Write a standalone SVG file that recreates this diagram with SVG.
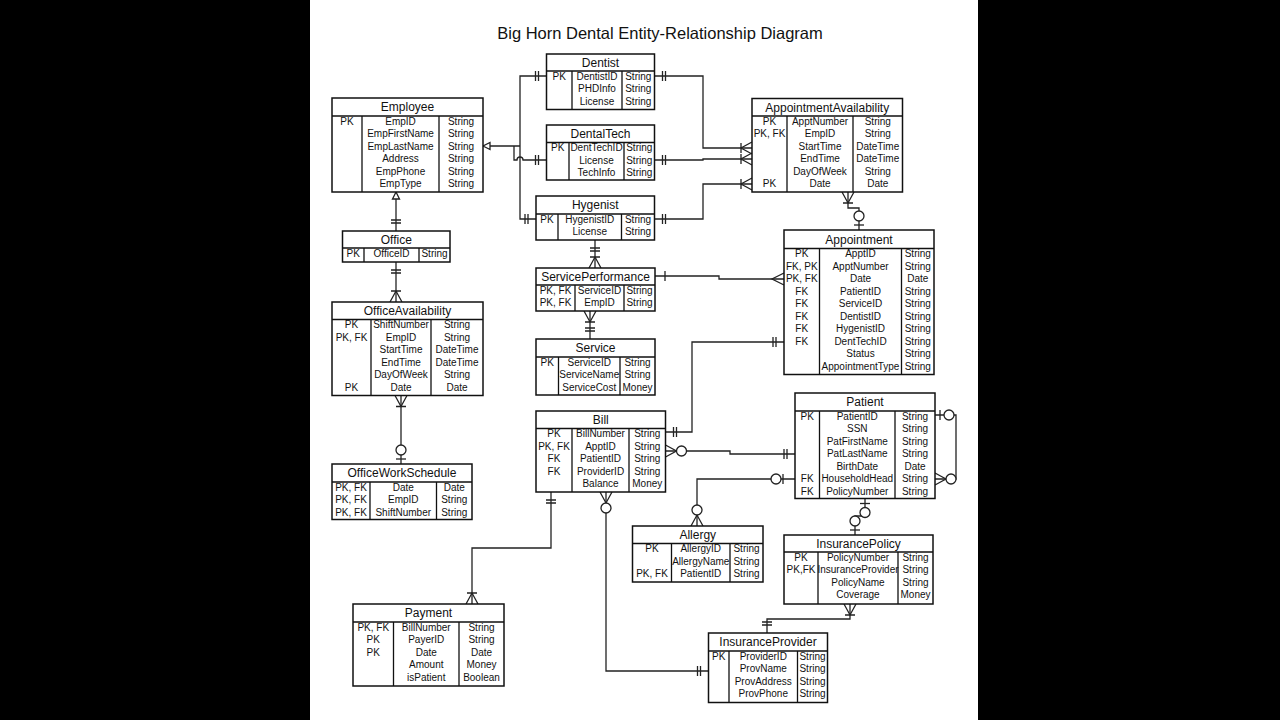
<svg xmlns="http://www.w3.org/2000/svg" width="1280" height="720" viewBox="0 0 1280 720">
<style>
.bx{fill:#fff;stroke:#111;stroke-width:1.5}
.ln{stroke:#111;stroke-width:1.3;fill:none}
.c{fill:none;stroke:#222;stroke-width:1.3}
.mk{fill:none;stroke:#222;stroke-width:1.3}
.mc{fill:#fff;stroke:#222;stroke-width:1.3}
text{font-family:"Liberation Sans",Arial,sans-serif;fill:#111;text-anchor:middle}
.h{font-size:12px}
.t{font-size:10px}
.title{font-size:16.5px}
</style>
<defs>
<marker id="one2" markerUnits="userSpaceOnUse" orient="auto-start-reverse" viewBox="-25 -10 30 20" markerWidth="30" markerHeight="20" refX="0" refY="0"><path class="mk" d="M-8,-5V5M-11,-5V5"/></marker>
<marker id="one" markerUnits="userSpaceOnUse" orient="auto-start-reverse" viewBox="-25 -10 30 20" markerWidth="30" markerHeight="20" refX="0" refY="0"><path class="mk" d="M-10,-5V5"/></marker>
<marker id="crow1" markerUnits="userSpaceOnUse" orient="auto-start-reverse" viewBox="-25 -10 30 20" markerWidth="30" markerHeight="20" refX="0" refY="0"><path class="mk" d="M0,-6L-11,0L0,6M-11,-5V5"/></marker>
<marker id="crow" markerUnits="userSpaceOnUse" orient="auto-start-reverse" viewBox="-25 -10 30 20" markerWidth="30" markerHeight="20" refX="0" refY="0"><path class="mk" d="M0,-6L-12,0L0,6"/></marker>
<marker id="crow0" markerUnits="userSpaceOnUse" orient="auto-start-reverse" viewBox="-25 -10 30 20" markerWidth="30" markerHeight="20" refX="0" refY="0"><path class="mk" d="M0,-6L-11,0L0,6"/><circle class="mc" cx="-16" cy="0" r="5"/></marker>
<marker id="zero1" markerUnits="userSpaceOnUse" orient="auto-start-reverse" viewBox="-25 -10 30 20" markerWidth="30" markerHeight="20" refX="0" refY="0"><path class="mk" d="M-5,-5V5"/><circle class="mc" cx="-14" cy="0" r="5"/></marker>
<marker id="zero1b" markerUnits="userSpaceOnUse" orient="auto-start-reverse" viewBox="-25 -10 30 20" markerWidth="30" markerHeight="20" refX="0" refY="0"><path class="mk" d="M-12,-5V5"/><circle class="mc" cx="-19" cy="0" r="5"/></marker>
<marker id="tri" markerUnits="userSpaceOnUse" orient="auto-start-reverse" viewBox="-25 -10 30 20" markerWidth="30" markerHeight="20" refX="0" refY="0"><path class="mc" d="M0,0L-7,-3.5L-7,3.5Z"/></marker>
</defs>
<rect x="0" y="0" width="1280" height="720" fill="#000"/>
<rect x="310" y="0" width="668" height="720" fill="#fff"/>
<text class="title" x="660" y="39">Big Horn Dental Entity-Relationship Diagram</text>

<g id="connectors">
<path class="c" d="M520 146H483" marker-end="url(#tri)"/>
<path class="c" d="M546.5 76H520V219H536" marker-start="url(#one2)" marker-end="url(#one2)"/>
<path class="c" d="M514 146V160H517a3 3 0 0 1 6 0H546.5" marker-end="url(#one2)"/>
<path class="c" d="M396 192V231" marker-start="url(#tri)" marker-end="url(#one2)"/>
<path class="c" d="M396 262V302" marker-start="url(#one2)" marker-end="url(#crow1)"/>
<path class="c" d="M401 395.5V464" marker-start="url(#crow1)" marker-end="url(#zero1)"/>
<path class="c" d="M654.5 76H703V148H752" marker-start="url(#one2)" marker-end="url(#crow1)"/>
<path class="c" d="M654.5 160H703V159H752" marker-start="url(#one2)" marker-end="url(#crow1)"/>
<path class="c" d="M654.5 219H703V184H752" marker-start="url(#one2)" marker-end="url(#crow1)"/>
<path class="c" d="M848 192V208H859V230" marker-start="url(#crow1)" marker-end="url(#zero1)"/>
<path class="c" d="M595 240V268" marker-start="url(#one2)" marker-end="url(#crow1)"/>
<path class="c" d="M655 276H719V279H784" marker-start="url(#one)" marker-end="url(#crow)"/>
<path class="c" d="M590 311V339" marker-start="url(#crow1)" marker-end="url(#one2)"/>
<path class="c" d="M784 342H692V432H665.5" marker-start="url(#one2)" marker-end="url(#one2)"/>
<path class="c" d="M665.5 451H730V454H795" marker-start="url(#crow0)" marker-end="url(#one2)"/>
<path class="c" d="M697 526V479H795" marker-start="url(#crow0)" marker-end="url(#zero1b)"/>
<path class="c" d="M935 415H956V479H935" marker-start="url(#zero1)" marker-end="url(#crow0)"/>
<path class="c" d="M865 498.5V516H855V535" marker-start="url(#zero1)" marker-end="url(#zero1)"/>
<path class="c" d="M850 604V619H767V633" marker-start="url(#crow1)" marker-end="url(#one2)"/>
<path class="c" d="M551 492V548H472V604" marker-start="url(#one2)" marker-end="url(#crow1)"/>
<path class="c" d="M606 492V671H708.5" marker-start="url(#crow0)" marker-end="url(#one2)"/>
</g>

<g id="Employee">
<rect class="bx" x="332" y="98" width="151" height="94"/>
<path class="ln" d="M332 116H483M362 116V192M439 116V192"/>
<text class="h" x="407.5" y="111">Employee</text>
<text class="t" x="347" y="124.5">PK</text>
<text class="t" x="400.5" y="124.5">EmpID</text><text class="t" x="461" y="124.5">String</text>
<text class="t" x="400.5" y="137">EmpFirstName</text><text class="t" x="461" y="137">String</text>
<text class="t" x="400.5" y="149.5">EmpLastName</text><text class="t" x="461" y="149.5">String</text>
<text class="t" x="400.5" y="162">Address</text><text class="t" x="461" y="162">String</text>
<text class="t" x="400.5" y="174.5">EmpPhone</text><text class="t" x="461" y="174.5">String</text>
<text class="t" x="400.5" y="187">EmpType</text><text class="t" x="461" y="187">String</text>
</g>

<g id="Dentist">
<rect class="bx" x="546.5" y="54" width="108" height="55.5"/>
<path class="ln" d="M546.5 71H654.5M572 71V109.5M622 71V109.5"/>
<text class="h" x="600.5" y="66.5">Dentist</text>
<text class="t" x="559.25" y="79.5">PK</text>
<text class="t" x="597" y="79.5">DentistID</text><text class="t" x="638.25" y="79.5">String</text>
<text class="t" x="597" y="92">PHDInfo</text><text class="t" x="638.25" y="92">String</text>
<text class="t" x="597" y="104.5">License</text><text class="t" x="638.25" y="104.5">String</text>
</g>

<g id="DentalTech">
<rect class="bx" x="546.5" y="125" width="108" height="55"/>
<path class="ln" d="M546.5 142.5H654.5M569 142.5V180M624 142.5V180"/>
<text class="h" x="600.5" y="138">DentalTech</text>
<text class="t" x="557.75" y="151">PK</text>
<text class="t" x="596.5" y="151">DentTechID</text><text class="t" x="639.25" y="151">String</text>
<text class="t" x="596.5" y="163.5">License</text><text class="t" x="639.25" y="163.5">String</text>
<text class="t" x="596.5" y="176">TechInfo</text><text class="t" x="639.25" y="176">String</text>
</g>

<g id="Hygenist">
<rect class="bx" x="536" y="196" width="118.5" height="44"/>
<path class="ln" d="M536 214H654.5M558 214V240M621.5 214V240"/>
<text class="h" x="595.25" y="209">Hygenist</text>
<text class="t" x="547" y="222.5">PK</text>
<text class="t" x="589.75" y="222.5">HygenistID</text><text class="t" x="638" y="222.5">String</text>
<text class="t" x="589.75" y="235">License</text><text class="t" x="638" y="235">String</text>
</g>

<g id="AppointmentAvailability">
<rect class="bx" x="752" y="98.5" width="150.5" height="93.5"/>
<path class="ln" d="M752 116H902.5M787 116V192M853 116V192"/>
<text class="h" x="827.25" y="111.5">AppointmentAvailability</text>
<text class="t" x="769.5" y="124.5">PK</text>
<text class="t" x="769.5" y="137">PK, FK</text>
<text class="t" x="769.5" y="187">PK</text>
<text class="t" x="820" y="124.5">ApptNumber</text><text class="t" x="877.75" y="124.5">String</text>
<text class="t" x="820" y="137">EmpID</text><text class="t" x="877.75" y="137">String</text>
<text class="t" x="820" y="149.5">StartTime</text><text class="t" x="877.75" y="149.5">DateTime</text>
<text class="t" x="820" y="162">EndTime</text><text class="t" x="877.75" y="162">DateTime</text>
<text class="t" x="820" y="174.5">DayOfWeek</text><text class="t" x="877.75" y="174.5">String</text>
<text class="t" x="820" y="187">Date</text><text class="t" x="877.75" y="187">Date</text>
</g>

<g id="Appointment">
<rect class="bx" x="784" y="230" width="150" height="144.5"/>
<path class="ln" d="M784 248.5H934M819.5 248.5V374.5M901.5 248.5V374.5"/>
<text class="h" x="859" y="243.5">Appointment</text>
<text class="t" x="801.75" y="257">PK</text>
<text class="t" x="801.75" y="269.5">FK, PK</text>
<text class="t" x="801.75" y="282">PK, FK</text>
<text class="t" x="801.75" y="294.5">FK</text>
<text class="t" x="801.75" y="307">FK</text>
<text class="t" x="801.75" y="319.5">FK</text>
<text class="t" x="801.75" y="332">FK</text>
<text class="t" x="801.75" y="344.5">FK</text>
<text class="t" x="860.5" y="257">ApptID</text><text class="t" x="917.75" y="257">String</text>
<text class="t" x="860.5" y="269.5">ApptNumber</text><text class="t" x="917.75" y="269.5">String</text>
<text class="t" x="860.5" y="282">Date</text><text class="t" x="917.75" y="282">Date</text>
<text class="t" x="860.5" y="294.5">PatientID</text><text class="t" x="917.75" y="294.5">String</text>
<text class="t" x="860.5" y="307">ServiceID</text><text class="t" x="917.75" y="307">String</text>
<text class="t" x="860.5" y="319.5">DentistID</text><text class="t" x="917.75" y="319.5">String</text>
<text class="t" x="860.5" y="332">HygenistID</text><text class="t" x="917.75" y="332">String</text>
<text class="t" x="860.5" y="344.5">DentTechID</text><text class="t" x="917.75" y="344.5">String</text>
<text class="t" x="860.5" y="357">Status</text><text class="t" x="917.75" y="357">String</text>
<text class="t" x="860.5" y="369.5">AppointmentType</text><text class="t" x="917.75" y="369.5">String</text>
</g>

<g id="Office">
<rect class="bx" x="342.5" y="231" width="107.5" height="31"/>
<path class="ln" d="M342.5 248H450M364 248V262M419 248V262"/>
<text class="h" x="396.25" y="243.5">Office</text>
<text class="t" x="353.25" y="256.5">PK</text>
<text class="t" x="391.5" y="256.5">OfficeID</text><text class="t" x="434.5" y="256.5">String</text>
</g>

<g id="OfficeAvailability">
<rect class="bx" x="332" y="302" width="151" height="93.5"/>
<path class="ln" d="M332 319.5H483M371 319.5V395.5M431 319.5V395.5"/>
<text class="h" x="407.5" y="315">OfficeAvailability</text>
<text class="t" x="351.5" y="328">PK</text>
<text class="t" x="351.5" y="340.5">PK, FK</text>
<text class="t" x="351.5" y="390.5">PK</text>
<text class="t" x="401" y="328">ShiftNumber</text><text class="t" x="457" y="328">String</text>
<text class="t" x="401" y="340.5">EmpID</text><text class="t" x="457" y="340.5">String</text>
<text class="t" x="401" y="353">StartTime</text><text class="t" x="457" y="353">DateTime</text>
<text class="t" x="401" y="365.5">EndTime</text><text class="t" x="457" y="365.5">DateTime</text>
<text class="t" x="401" y="378">DayOfWeek</text><text class="t" x="457" y="378">String</text>
<text class="t" x="401" y="390.5">Date</text><text class="t" x="457" y="390.5">Date</text>
</g>

<g id="OfficeWorkSchedule">
<rect class="bx" x="332" y="464" width="140" height="55.5"/>
<path class="ln" d="M332 482H472M370 482V519.5M436.5 482V519.5"/>
<text class="h" x="402" y="477">OfficeWorkSchedule</text>
<text class="t" x="351" y="490.5">PK, FK</text>
<text class="t" x="351" y="503">PK, FK</text>
<text class="t" x="351" y="515.5">PK, FK</text>
<text class="t" x="403.25" y="490.5">Date</text><text class="t" x="454.25" y="490.5">Date</text>
<text class="t" x="403.25" y="503">EmpID</text><text class="t" x="454.25" y="503">String</text>
<text class="t" x="403.25" y="515.5">ShiftNumber</text><text class="t" x="454.25" y="515.5">String</text>
</g>

<g id="ServicePerformance">
<rect class="bx" x="536" y="268" width="119" height="43"/>
<path class="ln" d="M536 285H655M575 285V311M624 285V311"/>
<text class="h" x="595.5" y="280.5">ServicePerformance</text>
<text class="t" x="555.5" y="293.5">PK, FK</text>
<text class="t" x="555.5" y="306">PK, FK</text>
<text class="t" x="599.5" y="293.5">ServiceID</text><text class="t" x="639.5" y="293.5">String</text>
<text class="t" x="599.5" y="306">EmpID</text><text class="t" x="639.5" y="306">String</text>
</g>

<g id="Service">
<rect class="bx" x="536" y="339" width="119" height="56"/>
<path class="ln" d="M536 357H655M558.5 357V395M620 357V395"/>
<text class="h" x="595.5" y="352">Service</text>
<text class="t" x="547.25" y="365.5">PK</text>
<text class="t" x="589.25" y="365.5">ServiceID</text><text class="t" x="637.5" y="365.5">String</text>
<text class="t" x="589.25" y="378">ServiceName</text><text class="t" x="637.5" y="378">String</text>
<text class="t" x="589.25" y="390.5">ServiceCost</text><text class="t" x="637.5" y="390.5">Money</text>
</g>

<g id="Bill">
<rect class="bx" x="536" y="411" width="129.5" height="81"/>
<path class="ln" d="M536 428.5H665.5M572 428.5V492M629 428.5V492"/>
<text class="h" x="600.75" y="424">Bill</text>
<text class="t" x="554" y="437">PK</text>
<text class="t" x="554" y="449.5">PK, FK</text>
<text class="t" x="554" y="462">FK</text>
<text class="t" x="554" y="474.5">FK</text>
<text class="t" x="600.5" y="437">BillNumber</text><text class="t" x="647.25" y="437">String</text>
<text class="t" x="600.5" y="449.5">ApptID</text><text class="t" x="647.25" y="449.5">String</text>
<text class="t" x="600.5" y="462">PatientID</text><text class="t" x="647.25" y="462">String</text>
<text class="t" x="600.5" y="474.5">ProviderID</text><text class="t" x="647.25" y="474.5">String</text>
<text class="t" x="600.5" y="487">Balance</text><text class="t" x="647.25" y="487">Money</text>
</g>

<g id="Patient">
<rect class="bx" x="795" y="393" width="140" height="105.5"/>
<path class="ln" d="M795 411H935M819.5 411V498.5M895 411V498.5"/>
<text class="h" x="865" y="406">Patient</text>
<text class="t" x="807.25" y="419.5">PK</text>
<text class="t" x="807.25" y="482">FK</text>
<text class="t" x="807.25" y="494.5">FK</text>
<text class="t" x="857.25" y="419.5">PatientID</text><text class="t" x="915" y="419.5">String</text>
<text class="t" x="857.25" y="432">SSN</text><text class="t" x="915" y="432">String</text>
<text class="t" x="857.25" y="444.5">PatFirstName</text><text class="t" x="915" y="444.5">String</text>
<text class="t" x="857.25" y="457">PatLastName</text><text class="t" x="915" y="457">String</text>
<text class="t" x="857.25" y="469.5">BirthDate</text><text class="t" x="915" y="469.5">Date</text>
<text class="t" x="857.25" y="482">HouseholdHead</text><text class="t" x="915" y="482">String</text>
<text class="t" x="857.25" y="494.5">PolicyNumber</text><text class="t" x="915" y="494.5">String</text>
</g>

<g id="InsurancePolicy">
<rect class="bx" x="784" y="535" width="149" height="69"/>
<path class="ln" d="M784 552H933M818 552V604M898 552V604"/>
<text class="h" x="858.5" y="547.5">InsurancePolicy</text>
<text class="t" x="801" y="560.5">PK</text>
<text class="t" x="801" y="573">PK,FK</text>
<text class="t" x="858" y="560.5">PolicyNumber</text><text class="t" x="915.5" y="560.5">String</text>
<text class="t" x="858" y="573">InsuranceProvider</text><text class="t" x="915.5" y="573">String</text>
<text class="t" x="858" y="585.5">PolicyName</text><text class="t" x="915.5" y="585.5">String</text>
<text class="t" x="858" y="598">Coverage</text><text class="t" x="915.5" y="598">Money</text>
</g>

<g id="Allergy">
<rect class="bx" x="632.5" y="526" width="130.5" height="56"/>
<path class="ln" d="M632.5 543.5H763M671.5 543.5V582M730 543.5V582"/>
<text class="h" x="697.75" y="539">Allergy</text>
<text class="t" x="652" y="552">PK</text>
<text class="t" x="652" y="577">PK, FK</text>
<text class="t" x="700.75" y="552">AllergyID</text><text class="t" x="746.5" y="552">String</text>
<text class="t" x="700.75" y="564.5">AllergyName</text><text class="t" x="746.5" y="564.5">String</text>
<text class="t" x="700.75" y="577">PatientID</text><text class="t" x="746.5" y="577">String</text>
</g>

<g id="Payment">
<rect class="bx" x="353" y="604" width="151" height="82"/>
<path class="ln" d="M353 622H504M393.5 622V686M459 622V686"/>
<text class="h" x="428.5" y="617">Payment</text>
<text class="t" x="373.25" y="630.5">PK, FK</text>
<text class="t" x="373.25" y="643">PK</text>
<text class="t" x="373.25" y="655.5">PK</text>
<text class="t" x="426.25" y="630.5">BillNumber</text><text class="t" x="481.5" y="630.5">String</text>
<text class="t" x="426.25" y="643">PayerID</text><text class="t" x="481.5" y="643">String</text>
<text class="t" x="426.25" y="655.5">Date</text><text class="t" x="481.5" y="655.5">Date</text>
<text class="t" x="426.25" y="668">Amount</text><text class="t" x="481.5" y="668">Money</text>
<text class="t" x="426.25" y="680.5">isPatient</text><text class="t" x="481.5" y="680.5">Boolean</text>
</g>

<g id="InsuranceProvider">
<rect class="bx" x="708.5" y="633" width="119" height="69.5"/>
<path class="ln" d="M708.5 651H827.5M729 651V702.5M797.5 651V702.5"/>
<text class="h" x="768" y="646">InsuranceProvider</text>
<text class="t" x="718.75" y="659.5">PK</text>
<text class="t" x="763.25" y="659.5">ProviderID</text><text class="t" x="812.5" y="659.5">String</text>
<text class="t" x="763.25" y="672">ProvName</text><text class="t" x="812.5" y="672">String</text>
<text class="t" x="763.25" y="684.5">ProvAddress</text><text class="t" x="812.5" y="684.5">String</text>
<text class="t" x="763.25" y="697">ProvPhone</text><text class="t" x="812.5" y="697">String</text>
</g>
</svg>
